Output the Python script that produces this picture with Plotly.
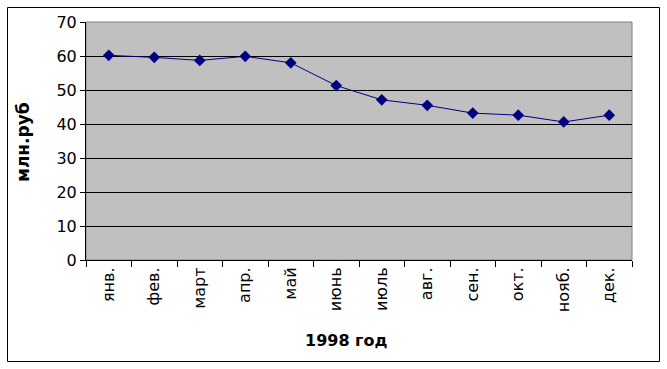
import plotly.graph_objects as go

months = ["янв.", "фев.", "март", "апр.", "май", "июнь", "июль", "авг.", "сен.", "окт.", "нояб.", "дек."]
values = [60.2, 59.6, 58.7, 59.9, 58.0, 51.3, 47.1, 45.5, 43.2, 42.6, 40.6, 42.6]
y_ticks = [0, 10, 20, 30, 40, 50, 60, 70]
x_title = "1998 год"
y_title = "млн.руб"

W, H = 667, 369
L, R, T, B = 86, 35, 22, 109
pw, ph = W - L - R, H - T - B

def px_x(p):
    return (p - L) / pw

def px_y(p):
    return (H - B - p) / ph

fig = go.Figure()
fig.add_trace(go.Scatter(
    x=months, y=values, mode="lines+markers",
    line=dict(color="#000080", width=1),
    marker=dict(symbol="diamond", size=9, color="#000080"),
))

font = dict(family="DejaVu Sans", size=16, color="black")

fig.update_layout(
    width=W, height=H,
    margin=dict(l=L, r=R, t=T, b=B),
    paper_bgcolor="white",
    plot_bgcolor="#C0C0C0",
    showlegend=False,
    font=font,
    xaxis=dict(
        type="category", range=[-0.5, 11.5],
        showgrid=False, zeroline=False,
        showline=True, linecolor="black", linewidth=1,
        ticks="outside", ticklen=6, tickcolor="black",
        tickson="boundaries", tickangle=-90,
        tickfont=font,
    ),
    yaxis=dict(
        range=[0, 70], tickvals=y_ticks,
        showgrid=True, gridcolor="black", gridwidth=1,
        zeroline=False,
        showline=True, linecolor="black", linewidth=1,
        ticks="outside", ticklen=5, tickcolor="black",
        tickfont=font,
    ),
    shapes=[
        dict(type="rect", xref="paper", yref="paper", x0=0, x1=1, y0=0, y1=1,
             line=dict(color="#808080", width=1), layer="below"),
        dict(type="rect", xref="paper", yref="paper",
             x0=px_x(7.5), x1=px_x(659.5), y0=px_y(361.5), y1=px_y(7.5),
             line=dict(color="black", width=1)),
    ],
    annotations=[
        dict(text="<b>" + x_title + "</b>", xref="paper", yref="paper", x=px_x(346), y=px_y(340),
             showarrow=False, font=dict(family="DejaVu Sans", size=16, color="black"),
             xanchor="center", yanchor="middle"),
        dict(text="<b>" + y_title + "</b>", xref="paper", yref="paper", x=px_x(23), y=px_y(142),
             showarrow=False, textangle=-90,
             font=dict(family="DejaVu Sans", size=17, color="black"),
             xanchor="center", yanchor="middle"),
    ],
)

fig.write_html("out.html", config={"displayModeBar": False},
               post_script="document.body.style.margin='0';")
